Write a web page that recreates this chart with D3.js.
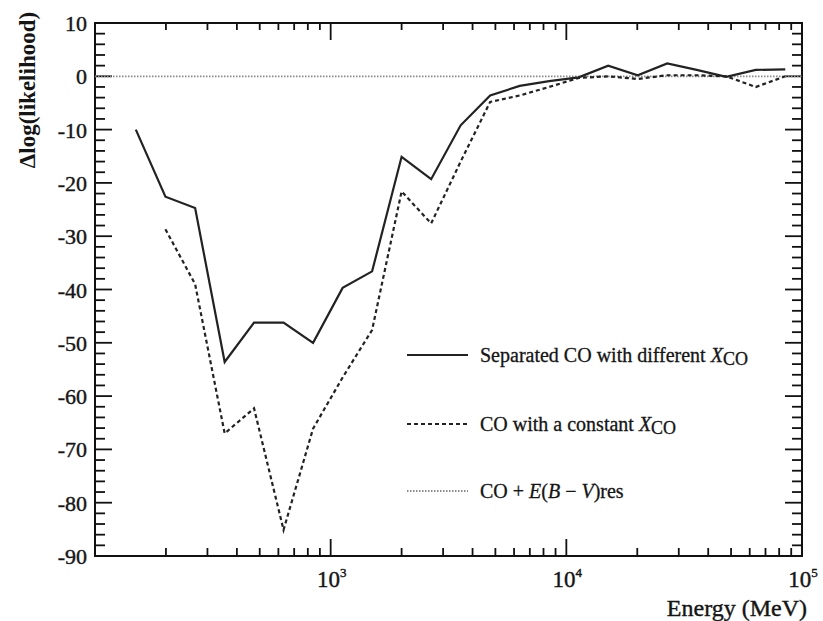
<!DOCTYPE html>
<html><head><meta charset="utf-8">
<script src="https://cdn.jsdelivr.net/npm/d3@7/dist/d3.min.js"></script>
<style>body{margin:0;background:#fff}svg{display:block}text{font-family:"Liberation Serif","DejaVu Serif",serif;fill:#151515}</style>
</head><body><svg id="c" width="823" height="621"></svg>
<script>
// Energies (MeV) of the data points
const energies = [149, 199, 266, 355, 473, 631, 842, 1124, 1499, 2000, 2669, 3561, 4751, 6339, 8457, 11283, 15054, 20085, 26797, 35753, 47701, 63643, 84913];
// Separated CO with different X_CO (solid)
const solidValues = [-10, -22.6, -24.7, -53.6, -46.2, -46.2, -50.0, -39.7, -36.6, -15.1, -19.3, -9.2, -3.6, -1.8, -0.9, -0.2, 2.0, 0.2, 2.4, 1.2, -0.1, 1.2, 1.3];
// CO with a constant X_CO (dashed), starts at the 2nd energy
const dashedEnergies = [199, 266, 355, 473, 631, 842, 1124, 1499, 2000, 2669, 3561, 4751, 6339, 8457, 11283, 15054, 20085, 26797, 35753, 47701, 63643, 84913];
const dashedValues = [-28.7, -39, -67, -62.3, -85.1, -66.1, -56.5, -47.6, -21.6, -27.6, -16, -4.8, -3.6, -2.0, -0.3, 0, -0.5, 0.2, 0.2, 0, -2.0, 0];
// CO + E(B-V)res (dotted)
const dottedEnergies = [100, 149, 199, 266, 355, 473, 631, 842, 1124, 1499, 2000, 2669, 3561, 4751, 6339, 8457, 11283, 15054, 20085, 26797, 35753, 47701, 63643, 84913, 100000];
const dottedValues = [0, 0, 0, 0, 0, 0, 0, 0, 0, 0, 0, 0, 0, 0, 0, 0, 0, 0, 0, 0, 0, 0, 0, 0, 0];
const yTickValues = [10, 0, -10, -20, -30, -40, -50, -60, -70, -80, -90];
const xTickLabels = [{v: 1e3, b: "10", e: "3"}, {v: 1e4, b: "10", e: "4"}, {v: 1e5, b: "10", e: "5"}];
const legendLabels = ["Separated CO with different ", "CO with a constant ", "CO + "];

const svg = d3.select("#c");
const L = 95, R = 802, T = 23, B = 556;
const x = d3.scaleLog().domain([100, 1e5]).range([L, R]);
const y = d3.scaleLinear().domain([-90, 10]).range([B, T]);

// minor/major ticks
const g = svg.append("g").attr("stroke", "#111").attr("stroke-width", 1.8);
const yMinor = d3.range(-90, 10.01, 2);
yMinor.forEach(v => {
  const major = Math.abs(v % 10) < 1e-9;
  const len = major ? 17 : 10;
  g.append("line").attr("x1", L).attr("x2", L + len).attr("y1", y(v)).attr("y2", y(v));
  g.append("line").attr("x1", R).attr("x2", R - len).attr("y1", y(v)).attr("y2", y(v));
});
const xTicks = [];
[100, 1000, 10000].forEach(d => { for (let k = 1; k <= 9; k++) xTicks.push(d * k); });
xTicks.push(1e5);
xTicks.forEach(v => {
  const major = Math.abs(Math.log10(v) - Math.round(Math.log10(v))) < 1e-9;
  const len = major ? 17 : 8;
  g.append("line").attr("x1", x(v)).attr("x2", x(v)).attr("y1", B).attr("y2", B - len);
  g.append("line").attr("x1", x(v)).attr("x2", x(v)).attr("y1", T).attr("y2", T + (major ? 17 : 7));
});
svg.append("rect").attr("x", L).attr("y", T).attr("width", R - L).attr("height", B - T)
  .attr("fill", "none").attr("stroke", "#111").attr("stroke-width", 2);

// y tick labels
svg.append("g").selectAll("text").data(yTickValues).join("text")
  .attr("x", L - 8).attr("y", d => y(d) + 8).attr("text-anchor", "end")
  .attr("font-size", 22).attr("stroke", "#151515").attr("stroke-width", 0.4).text(d => d);
// x tick labels
const xl = svg.append("g").selectAll("text").data(xTickLabels).join("text")
  .attr("x", d => x(d.v) + 1).attr("y", 587).attr("text-anchor", "middle").attr("font-size", 23)
  .attr("stroke", "#151515").attr("stroke-width", 0.4);
xl.append("tspan").text(d => d.b);
xl.append("tspan").attr("font-size", 13).attr("dy", -10).text(d => d.e);

// axis titles
svg.append("text").attr("transform", "translate(35,90) rotate(-90)").attr("text-anchor", "middle")
  .attr("font-size", 23).attr("font-weight", "bold").text("Δlog(likelihood)");
svg.append("text").attr("x", 807).attr("y", 616).attr("text-anchor", "end").attr("font-size", 24)
  .attr("stroke", "#151515").attr("stroke-width", 0.4).text("Energy (MeV)");

// lines
const line = d3.line().x(d => x(d[0])).y(d => y(d[1]));
svg.append("path").attr("d", line(dottedEnergies.map((e, i) => [e, dottedValues[i]])))
  .attr("fill", "none").attr("stroke", "#8a8a8a").attr("stroke-width", 1.8).attr("stroke-dasharray", "1.5,1.5");
svg.append("path").attr("d", line(dashedEnergies.map((e, i) => [e, dashedValues[i]])))
  .attr("fill", "none").attr("stroke", "#222").attr("stroke-width", 2.2).attr("stroke-dasharray", "4,3");
svg.append("path").attr("d", line(energies.map((e, i) => [e, solidValues[i]])))
  .attr("fill", "none").attr("stroke", "#222").attr("stroke-width", 2.2);

// legend
const legY = [355, 424, 491];
const styles = [
  {stroke: "#222", dash: null, w: 2.2},
  {stroke: "#222", dash: "4,3", w: 2},
  {stroke: "#8a8a8a", dash: "1.5,1.5", w: 1.8}
];
legY.forEach((ly, i) => {
  svg.append("line").attr("x1", 407).attr("x2", 468).attr("y1", ly).attr("y2", ly)
    .attr("stroke", styles[i].stroke).attr("stroke-width", styles[i].w)
    .attr("stroke-dasharray", styles[i].dash);
  const t = svg.append("text").attr("x", 480).attr("y", ly + 7).attr("font-size", 20)
    .attr("stroke", "#151515").attr("stroke-width", 0.3);
  t.append("tspan").text(legendLabels[i]);
  if (i < 2) {
    t.append("tspan").attr("font-style", "italic").text("X");
    t.append("tspan").attr("font-size", 18).attr("dy", 3).text("CO");
  } else {
    t.append("tspan").attr("font-style", "italic").text("E");
    t.append("tspan").text("(");
    t.append("tspan").attr("font-style", "italic").text("B");
    t.append("tspan").text(" − ");
    t.append("tspan").attr("font-style", "italic").text("V");
    t.append("tspan").text(")res");
  }
});
</script></body></html>
